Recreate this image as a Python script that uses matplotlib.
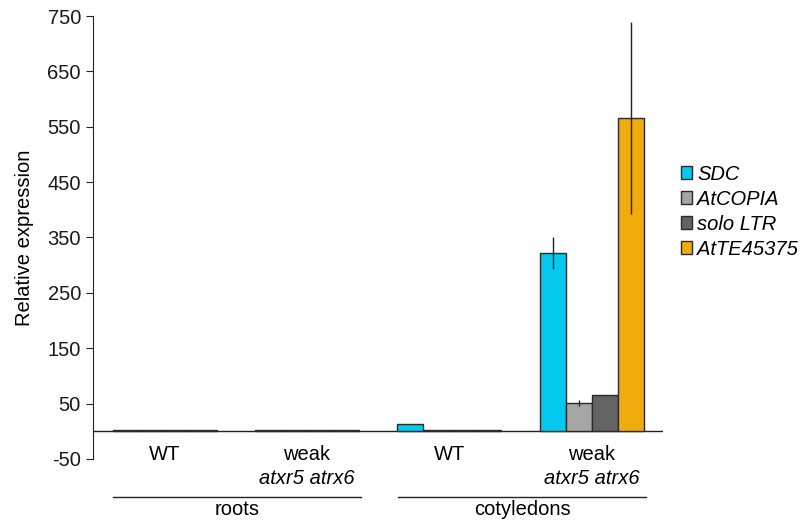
import numpy as np
import matplotlib.pyplot as plt
from matplotlib.patches import Patch
import matplotlib.transforms as mtransforms

plt.rcParams['font.family'] = ['Liberation Sans', 'DejaVu Sans']
plt.rcParams['font.size'] = 14.5
plt.rcParams['axes.unicode_minus'] = False

# genotypes x tissue, four transcripts each
genes = ['SDC', 'AtCOPIA', 'solo LTR', 'AtTE45375']
colors = ['#05C8EE', '#A5A5A5', '#636363', '#F0AC0C']
groups = ['WT', 'weak', 'WT', 'weak']
mutant = ['', 'atxr5 atrx6', '', 'atxr5 atrx6']
tissues = ['roots', 'cotyledons']

# rows = groups, cols = genes
expr = np.array([[1.5, 1.5, 1.5, 1.5],
                 [1.5, 1.5, 1.5, 1.5],
                 [13, 1.5, 1.5, 1.5],
                 [322, 51, 65, 566]])
err = np.array([[0, 0, 0, 0],
                [0, 0, 0, 0],
                [0, 0, 0, 0],
                [29, 5, 1, 173]])

fig = plt.figure(figsize=(8.05, 5.23), dpi=100)
ax = fig.add_axes([0.1152, 0.1224, 0.7084, 0.847])

x = np.arange(len(groups))
w = 0.1825
for j, g in enumerate(genes):
    pos = x + (j - 1.5) * w
    ax.bar(pos, expr[:, j], w, color=colors[j], edgecolor='#2a2a2a', linewidth=1.0, zorder=2)
    ax.errorbar(pos, expr[:, j], yerr=err[:, j], fmt='none', ecolor='#222222',
                elinewidth=1.0, capsize=0, zorder=3)

ax.axhline(0, color='#222222', lw=1.0, zorder=1)
ax.set_xlim(-0.504, 3.5)
ax.set_ylim(-50, 750)
ax.set_yticks(np.arange(-50, 751, 100))
ax.set_xticks([])
for s in ['top', 'right', 'bottom']:
    ax.spines[s].set_visible(False)
ax.spines['left'].set_color('#222222')
ax.tick_params(axis='y', direction='out', length=5, colors='#222222', labelcolor='#1a1a1a')
ax.set_ylabel('Relative expression', labelpad=10)

trans = mtransforms.blended_transform_factory(ax.transData, ax.transAxes)
for i in range(len(groups)):
    ax.text(i, 0.01, groups[i], transform=trans, ha='center', va='center')
    ax.text(i, -0.043, mutant[i], transform=trans, ha='center', va='center', style='italic')

for k, t in enumerate(tissues):
    x0 = 2 * k - 0.36
    x1 = 2 * k + 1.38
    ax.plot([x0, x1], [-0.086, -0.086], transform=trans, color='#222222', lw=1.0, clip_on=False)
    ax.text((x0 + x1) / 2, -0.113, t, transform=trans, ha='center', va='center')

handles = [Patch(facecolor=c, edgecolor='#2a2a2a', linewidth=1.0) for c in colors]
leg = fig.legend(handles, genes, loc='upper left', bbox_to_anchor=(0.846, 0.685),
                 frameon=False, handlelength=0.55, handleheight=0.6,
                 handletextpad=0.25, labelspacing=0.3, borderpad=0, borderaxespad=0)
for t in leg.get_texts():
    t.set_fontstyle('italic')

fig.savefig('out.png', dpi=100)
